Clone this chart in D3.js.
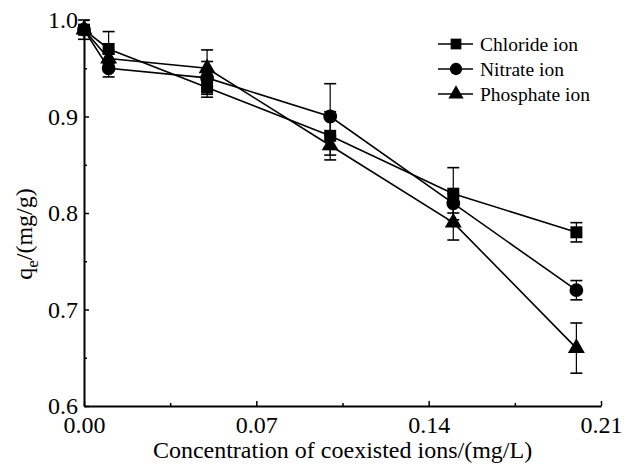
<!DOCTYPE html>
<html>
<head>
<meta charset="utf-8">
<script src="https://cdn.jsdelivr.net/npm/d3@7"></script>
<style>
  html, body { margin: 0; padding: 0; background: #fff; }
  svg { display: block; }
  svg text { font-family: "Liberation Serif", "Times New Roman", serif !important; fill: #000; }
</style>
</head>
<body>
<svg id="chart" width="637" height="468" font-family="Liberation Serif"></svg>
<script>
// Concentration of the coexisting ion (mg/L)
const concentrations = [0, 0.01, 0.05, 0.1, 0.15, 0.2];

// Adsorption capacity q_e (mg/g) and error bars for each coexisting ion
const chloride     = [0.99, 0.97, 0.93, 0.88, 0.82, 0.78];
const chlorideErr  = [0.01, 0.018, 0.01, 0.025, 0.027, 0.01];
const nitrate      = [0.99, 0.95, 0.94, 0.90, 0.81, 0.72];
const nitrateErr   = [0.005, 0.009, 0.017, 0.034, 0.01, 0.01];
const phosphate    = [0.99, 0.96, 0.95, 0.87, 0.79, 0.66];
const phosphateErr = [0.005, 0.005, 0.019, 0.01, 0.018, 0.026];

const seriesNames = ["Chloride ion", "Nitrate ion", "Phosphate ion"];

// Axis ticks
const xMajorTicks = [0, 0.07, 0.14, 0.21];
const xMinorTicks = [0.035, 0.105, 0.175];
const yMajorTicks = [0.6, 0.7, 0.8, 0.9, 1.0];
const yMinorTicks = [0.65, 0.75, 0.85, 0.95];

const series = [
  { name: seriesNames[0], values: chloride,  errors: chlorideErr,  symbol: d3.symbolSquare,   size: 144 },
  { name: seriesNames[1], values: nitrate,   errors: nitrateErr,   symbol: d3.symbolCircle,   size: 150 },
  { name: seriesNames[2], values: phosphate, errors: phosphateErr, symbol: d3.symbolTriangle, size: 125 }
];

const svg = d3.select("#chart");
const plotLeft = 84, plotRight = 601, plotTop = 20, plotBottom = 406;

const x = d3.scaleLinear().domain([0, 0.21]).range([plotLeft, plotRight]);
const y = d3.scaleLinear().domain([0.6, 1.0]).range([plotBottom, plotTop]);

// Axes: ticks point into the plot
function styleAxis(g) {
  g.attr("font-family", "Liberation Serif").attr("font-size", 24);
  g.selectAll(".tick line").attr("stroke", "#000").attr("stroke-width", 1.5);
  g.selectAll(".tick text").attr("fill", "#000");
  g.select(".domain").attr("stroke", "#000").attr("stroke-width", 2);
}

const xAxisMinor = d3.axisBottom(x).tickValues(xMinorTicks).tickSize(-3).tickFormat("");
const xAxis = d3.axisBottom(x).tickValues(xMajorTicks).tickSizeInner(-5).tickSizeOuter(0)
  .tickPadding(10).tickFormat(d3.format(".2f"));
const yAxisMinor = d3.axisLeft(y).tickValues(yMinorTicks).tickSize(-3).tickFormat("");
const yAxis = d3.axisLeft(y).tickValues(yMajorTicks).tickSizeInner(-5).tickSizeOuter(0)
  .tickPadding(6).tickFormat(d3.format(".1f"));

svg.append("g").attr("transform", `translate(0,${plotBottom})`).call(xAxisMinor)
  .call(g => g.select(".domain").remove()).call(styleAxis);
svg.append("g").attr("transform", `translate(${plotLeft},0)`).call(yAxisMinor)
  .call(g => g.select(".domain").remove()).call(styleAxis);
svg.append("g").attr("transform", `translate(0,${plotBottom})`).call(xAxis).call(styleAxis);
svg.append("g").attr("transform", `translate(${plotLeft},0)`).call(yAxis).call(styleAxis);

// Axis titles
svg.append("text")
  .attr("x", (plotLeft + plotRight) / 2)
  .attr("y", 458)
  .attr("text-anchor", "middle")
  .attr("font-size", 24)
  .text("Concentration of coexisted ions/(mg/L)");

const yTitle = svg.append("text")
  .attr("transform", "translate(32,234) rotate(-90)")
  .attr("text-anchor", "middle")
  .attr("font-size", 24);
yTitle.append("tspan").text("q");
yTitle.append("tspan").attr("font-size", 17).attr("dy", 6).text("e");
yTitle.append("tspan").attr("dy", -6).text("/(mg/g)");

// Lines
const line = d3.line().x((d, i) => x(concentrations[i])).y(d => y(d));
svg.append("g").selectAll("path").data(series).join("path")
  .attr("d", s => line(s.values))
  .attr("fill", "none")
  .attr("stroke", "#000")
  .attr("stroke-width", 1.6);

// Error bars
const capHalf = 6;
series.forEach(s => {
  const g = svg.append("g").attr("stroke", "#000");
  s.values.forEach((v, i) => {
    const cx = x(concentrations[i]);
    const y1 = y(v + s.errors[i]), y2 = y(v - s.errors[i]);
    g.append("line").attr("x1", cx).attr("x2", cx).attr("y1", y1).attr("y2", y2).attr("stroke-width", 1.2);
    g.append("line").attr("x1", cx - capHalf).attr("x2", cx + capHalf).attr("y1", y1).attr("y2", y1).attr("stroke-width", 1.6);
    g.append("line").attr("x1", cx - capHalf).attr("x2", cx + capHalf).attr("y1", y2).attr("y2", y2).attr("stroke-width", 1.6);
  });
});

// Markers
series.forEach(s => {
  svg.append("g").selectAll("path").data(s.values).join("path")
    .attr("transform", (d, i) => `translate(${x(concentrations[i])},${y(d)})`)
    .attr("d", d3.symbol().type(s.symbol).size(s.size))
    .attr("fill", "#000");
});

// Legend
const legend = svg.append("g");
series.forEach((s, i) => {
  const ly = 44 + i * 25;
  legend.append("line").attr("x1", 438).attr("x2", 473).attr("y1", ly).attr("y2", ly)
    .attr("stroke", "#000").attr("stroke-width", 1.6);
  legend.append("path")
    .attr("transform", `translate(456,${ly})`)
    .attr("d", d3.symbol().type(s.symbol).size(s.size * 0.8))
    .attr("fill", "#000");
  legend.append("text").attr("x", 480).attr("y", ly + 6.5).attr("font-size", 19.5).text(s.name);
});
</script>
</body>
</html>
